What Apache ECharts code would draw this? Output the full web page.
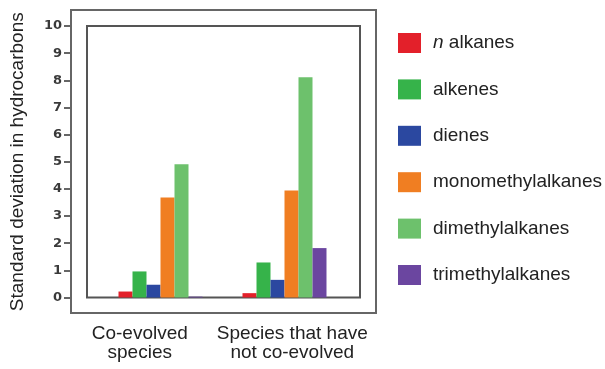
<!DOCTYPE html>
<html>
<head>
<meta charset="utf-8">
<script src="https://cdn.jsdelivr.net/npm/echarts@6/dist/echarts.min.js"></script>
<style>html,body{margin:0;padding:0;background:#fff;}#c{width:605px;height:369px;}</style>
</head>
<body>
<div id="c"></div>
<script>
const categories = ['Co-evolved\nspecies', 'Species that have\nnot co-evolved'];
const seriesNames = ['n alkanes', 'alkenes', 'dienes', 'monomethylalkanes', 'dimethylalkanes', 'trimethylalkanes'];
const nAlkanes = [0.22, 0.16];
const alkenes = [0.96, 1.29];
const dienes = [0.47, 0.65];
const monomethylalkanes = [3.68, 3.94];
const dimethylalkanes = [4.91, 8.11];
const trimethylalkanes = [0.03, 1.82];
const yTicks = [0, 10, 1];
const colors = ['#e3202a', '#36b34a', '#2b48a0', '#f07e22', '#6dc16c', '#6b46a0'];

const values = [nAlkanes, alkenes, dienes, monomethylalkanes, dimethylalkanes, trimethylalkanes];
const chart = echarts.init(document.getElementById('c'), null, {renderer: 'canvas'});
const font = 'Liberation Sans, Arial, Helvetica, sans-serif';
chart.setOption({
  animation: false,
  color: colors,
  grid: [
    {left: 71, top: 10, width: 305, height: 303, show: true, borderColor: '#666', borderWidth: 2, backgroundColor: 'transparent'},
    {left: 87, top: 26, width: 273, height: 271.5, show: true, borderColor: '#555', borderWidth: 2},
    {left: 98.5, top: 26, width: 248, height: 271.5}
  ],
  xAxis: [
    {gridIndex: 0, type: 'category', data: categories, axisLine: {show: false}, axisTick: {show: false},
     axisLabel: {interval: 0, fontFamily: font, fontSize: 19, lineHeight: 19, color: '#222', margin: 11, padding: [0, 15, 0, 0]}},
    {gridIndex: 1, type: 'category', data: categories, show: false},
    {gridIndex: 2, type: 'category', data: categories, show: false}
  ],
  yAxis: [
    {gridIndex: 0, type: 'value', show: false},
    {gridIndex: 1, type: 'value', min: yTicks[0], max: yTicks[1], interval: yTicks[2], offset: 16,
     axisLine: {show: false}, splitLine: {show: false},
     axisTick: {show: true, length: 7, lineStyle: {color: '#666', width: 2}},
     axisLabel: {fontFamily: 'DejaVu Sans', fontWeight: 'bold', fontSize: 13, color: '#3a3a3a', margin: 9},
     name: 'Standard deviation in hydrocarbons', nameLocation: 'middle', nameRotate: 90, nameGap: 44,
     nameTextStyle: {fontFamily: font, fontSize: 19, color: '#222'}},
    {gridIndex: 2, type: 'value', min: yTicks[0], max: yTicks[1], interval: yTicks[2], show: false}
  ],
  legend: {
    orient: 'vertical', left: 393, top: 28, itemWidth: 23, itemHeight: 20, itemGap: 26.4, icon: 'rect',
    data: seriesNames,
    formatter: function (n) { return n === 'n alkanes' ? '{i|n} alkanes' : n; },
    textStyle: {fontFamily: font, fontSize: 19, color: '#222', padding: [0, 0, 0, 7],
      rich: {i: {fontFamily: font, fontSize: 19, fontStyle: 'italic', color: '#222'}}}
  },
  series: seriesNames.map((name, i) => ({
    name: name, type: 'bar', xAxisIndex: 2, yAxisIndex: 2, data: values[i],
    barWidth: 14, barGap: '0%', itemStyle: {color: colors[i]}
  }))
});
</script>
</body>
</html>
